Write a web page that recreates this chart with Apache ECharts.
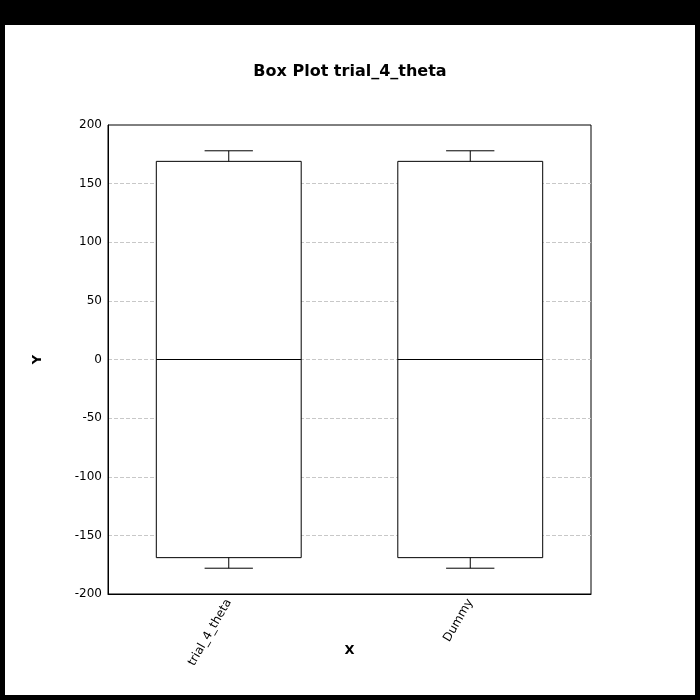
<!DOCTYPE html>
<html><head><meta charset="utf-8">
<script src="https://cdn.jsdelivr.net/npm/echarts@6/dist/echarts.min.js"></script>
<style>html,body{margin:0;padding:0;background:#000;}#c{width:700px;height:700px;}</style>
</head><body><div id="c"></div>
<script>
var categories = ['trial_4_theta', 'Dummy'];
var whiskerLow = [-178, -178];
var q1 = [-169, -169];
var median = [0, 0];
var q3 = [169, 169];
var whiskerHigh = [178, 178];
var yTicks = [-200, -150, -100, -50, 0, 50, 100, 150, 200];

var data = categories.map(function (c, i) {
  return [i, whiskerLow[i], q1[i], median[i], q3[i], whiskerHigh[i]];
});

var chart = echarts.init(document.getElementById('c'));
var font = 'DejaVu Sans';
chart.setOption({
  backgroundColor: '#000',
  animation: false,
  graphic: [{ type: 'rect', z: -10, silent: true, shape: { x: 5, y: 25, width: 690, height: 670 }, style: { fill: '#fff' } }],
  title: { text: 'Box Plot trial_4_theta', left: 'center', top: 59, textStyle: { fontFamily: font, fontSize: 16, fontWeight: 'bold', color: '#000' } },
  grid: { left: 108, top: 125, width: 483, height: 469, show: true, borderColor: '#000', borderWidth: 1, backgroundColor: 'transparent' },
  xAxis: {
    type: 'category', data: categories,
    name: 'X', nameLocation: 'middle', nameGap: 50, nameMoveOverlap: false,
    nameTextStyle: { fontFamily: font, fontSize: 13, fontWeight: 'bold', color: '#000' },
    axisLine: { show: true, onZero: false, lineStyle: { color: '#000' } },
    axisTick: { show: false },
    axisLabel: { rotate: 60, fontFamily: font, fontSize: 12, color: '#000', margin: 6 },
    splitLine: { show: false }
  },
  yAxis: {
    type: 'value', min: -200, max: 200, interval: 50,
    name: 'Y', nameLocation: 'middle', nameGap: 64, nameRotate: 90,
    nameTextStyle: { fontFamily: font, fontSize: 13, fontWeight: 'bold', color: '#000' },
    axisLine: { show: true, onZero: false, lineStyle: { color: '#000' } },
    axisTick: { show: false },
    axisLabel: { fontFamily: font, fontSize: 12, color: '#000', margin: 6, padding: [4, 0, 0, 0] },
    splitLine: { show: true, showMinLine: false, showMaxLine: false, lineStyle: { color: '#c8c8c8', type: 'dashed', width: 1 } }
  },
  series: [{
    type: 'custom',
    data: data,
    renderItem: function (params, api) {
      var idx = api.value(0);
      var lo = api.coord([idx, api.value(1)]);
      var b1 = api.coord([idx, api.value(2)]);
      var md = api.coord([idx, api.value(3)]);
      var b3 = api.coord([idx, api.value(4)]);
      var hi = api.coord([idx, api.value(5)]);
      var bw = api.size([1, 0])[0] * 0.6;
      var cw = bw / 3;
      var x = lo[0];
      var st = { stroke: '#000', lineWidth: 1, fill: null };
      return {
        type: 'group',
        children: [
          { type: 'rect', shape: { x: x - bw / 2, y: b3[1], width: bw, height: b1[1] - b3[1] }, style: { stroke: '#000', lineWidth: 1, fill: '#fff' } },
          { type: 'line', shape: { x1: x - bw / 2, y1: md[1], x2: x + bw / 2, y2: md[1] }, style: st },
          { type: 'line', shape: { x1: x, y1: b3[1], x2: x, y2: hi[1] }, style: st },
          { type: 'line', shape: { x1: x - cw / 2, y1: hi[1], x2: x + cw / 2, y2: hi[1] }, style: st },
          { type: 'line', shape: { x1: x, y1: b1[1], x2: x, y2: lo[1] }, style: st },
          { type: 'line', shape: { x1: x - cw / 2, y1: lo[1], x2: x + cw / 2, y2: lo[1] }, style: st }
        ]
      };
    }
  }]
});
</script></body></html>
